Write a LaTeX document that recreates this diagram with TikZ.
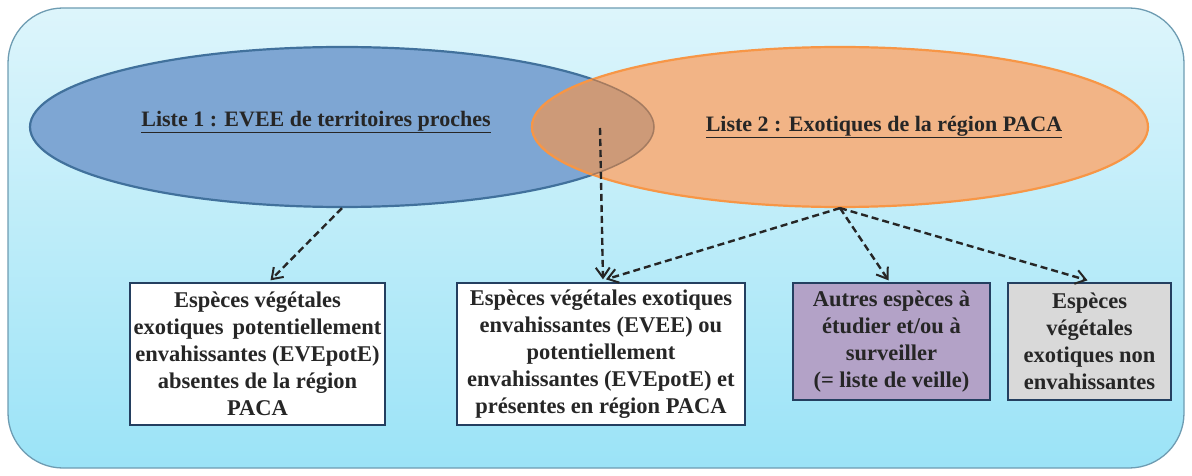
\documentclass[tikz,border=0pt]{standalone}
\usepackage{fontspec}
\setmainfont{Liberation Serif}
\usetikzlibrary{shapes.geometric,arrows.meta,calc}
\definecolor{bgtop}{HTML}{DDF5FB}
\definecolor{bgbot}{HTML}{9BE3F7}
\definecolor{bgline}{HTML}{6E9CB2}
\definecolor{bluefill}{HTML}{7EA6D3}
\definecolor{blueline}{HTML}{41719C}
\definecolor{orfill}{HTML}{F2B486}
\definecolor{orline}{HTML}{F79646}
\definecolor{interfill}{HTML}{CD9A78}
\definecolor{purplefill}{HTML}{B3A2C7}
\definecolor{grayfill}{HTML}{D9D9D9}
\definecolor{boxline}{HTML}{243F60}
\tikzset{
  txt/.style={font=\fontsize{22.5}{27}\selectfont\bfseries, text=black!85, align=center},
  catbox/.style={draw=boxline, line width=1.3pt, inner sep=0pt, txt},
  conn/.style={draw=black!85, line width=2.4pt, dash pattern=on 7pt off 4pt,
    -{Straight Barb[length=10pt,width=14pt,line width=2pt]}},
  lbl/.style={font=\fontsize{22}{24}\selectfont\bfseries, text=black!85}
}
\begin{document}
\begin{tikzpicture}[x=1pt,y=-1pt]
\useasboundingbox (0,0) rectangle (1192,476);
% background panel
\shade[top color=bgtop, bottom color=bgbot, rounded corners=55pt] (8,8) rectangle (1184,468);
\draw[bgline, line width=1.3pt, rounded corners=55pt] (8,8) rectangle (1184,468);
% ellipses
\node[ellipse, fill=bluefill, draw=blueline, line width=2.2pt, minimum width=624pt, minimum height=160pt, inner sep=0pt] (l1) at (342,127) {};
\node[ellipse, fill=orfill, draw=orline, line width=2.2pt, minimum width=616pt, minimum height=160pt, inner sep=0pt] (l2) at (840,127) {};
\begin{scope}
  \clip (342,127) ellipse [x radius=312, y radius=80];
  \fill[interfill] (840,127) ellipse [x radius=308, y radius=80];
  \draw[orline, line width=2.2pt] (840,127) ellipse [x radius=308, y radius=80];
\end{scope}
\begin{scope}
  \clip (840,127) ellipse [x radius=308, y radius=80];
  \draw[interfill!80!black, line width=1.5pt] (342,127) ellipse [x radius=312, y radius=80];
\end{scope}
\node[lbl] (t1) at (316,122) {\underline{Liste 1 : EVEE de territoires proches}};
\node[lbl] (t2) at (884,127) {\underline{Liste 2 : Exotiques de la région PACA}};
\coordinate (inter) at (600,128);
% boxes
\node[catbox, fill=white, minimum width=255pt, minimum height=142pt] (b1) at (257.5,354) {Espèces végétales\\exotiques\hspace{0.4em}potentiellement\\envahissantes (EVEpotE)\\absentes de la région\\PACA};
\node[catbox, fill=white, minimum width=288pt, minimum height=142pt] (b2) at (601,354) {Espèces végétales exotiques\\envahissantes (EVEE) ou\\potentiellement\\envahissantes (EVEpotE) et\\présentes en région PACA};
\node[catbox, fill=purplefill, minimum width=197pt, minimum height=117pt] (b3) at (891.5,341.5) {Autres espèces à\\étudier et/ou à\\surveiller\\(= liste de veille)};
\node[catbox, fill=grayfill, minimum width=163pt, minimum height=117pt] (b4) at (1089.5,341.5) {Espèces\\végétales\\exotiques non\\envahissantes};
% connectors
\draw[conn] (l1.south) -- ($(b1.north)+(13,-2)$);
\draw[conn] (inter) -- ($(b2.north)+(2,-3)$);
\draw[conn] (l2.south) -- ($(b2.north)+(5,-3)$);
\draw[conn] (l2.south) -- ($(b3.north)+(-3,-2)$);
\draw[conn] (l2.south) -- ($(b4.north)+(-2,-2)$);
\end{tikzpicture}
\end{document}
